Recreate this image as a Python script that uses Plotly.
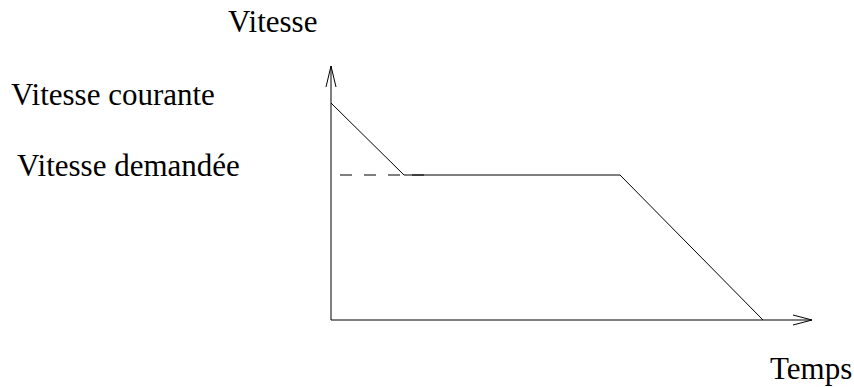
import plotly.graph_objects as go

# --- data (speed profile) ---
time = [0, 73, 289, 432]           # time instants of the profile
speed = [217, 145, 145, 0]         # current speed -> requested speed -> plateau -> stop
dash_time = [9, 97]                # extent of the dashed "requested speed" guide

# axis labels / annotations
label_y_axis = "Vitesse"
label_x_axis = "Temps"
label_current = "Vitesse courante"
label_requested = "Vitesse demandée"

# --- layout constants (pixel geometry) ---
W, H = 854, 387
OX, OY = 331, 320                  # origin in pixels
X_END, Y_END = 481, 254            # axis lengths (data units == pixels)
FONT = "Liberation Serif"
FS = 31

def px(x):
    return x - OX

def py(y):
    return OY - y

black = "#000000"
fig = go.Figure()

# speed profile
fig.add_trace(go.Scatter(x=time, y=speed, mode="lines",
                         line=dict(color=black, width=1), hoverinfo="skip"))
# dashed requested speed guide
fig.add_trace(go.Scatter(x=dash_time, y=[speed[1], speed[1]], mode="lines",
                         line=dict(color=black, width=1, dash="12px,12px"), hoverinfo="skip"))
# y axis with open arrowhead
fig.add_trace(go.Scatter(x=[0, 0, None, -5, 0, 5], y=[0, Y_END, None, Y_END - 21, Y_END, Y_END - 21],
                         mode="lines", line=dict(color=black, width=1), hoverinfo="skip"))
# x axis with open arrowhead
fig.add_trace(go.Scatter(x=[0, X_END, None, X_END - 19, X_END, X_END - 19], y=[0, 0, None, 5, 0, -5],
                         mode="lines", line=dict(color=black, width=1), hoverinfo="skip"))

def label(text, left_px, mid_px):
    fig.add_annotation(x=px(left_px), y=py(mid_px), text=text, showarrow=False,
                       xanchor="left", yanchor="middle",
                       font=dict(family=FONT, size=FS, color=black))

label(label_y_axis, 226, 21)
label(label_current, 9, 94)
label(label_requested, 15, 165)
label(label_x_axis, 768, 368)

fig.update_layout(
    width=W, height=H, autosize=False,
    margin=dict(l=0, r=0, t=0, b=0),
    paper_bgcolor="white", plot_bgcolor="white",
    showlegend=False,
    xaxis=dict(visible=False, range=[-OX, W - OX], fixedrange=True),
    yaxis=dict(visible=False, range=[OY - H, OY], fixedrange=True),
)

fig.write_html("out.html", config={"displayModeBar": False},
               post_script="document.body.style.margin='0';document.body.style.overflow='hidden';")
